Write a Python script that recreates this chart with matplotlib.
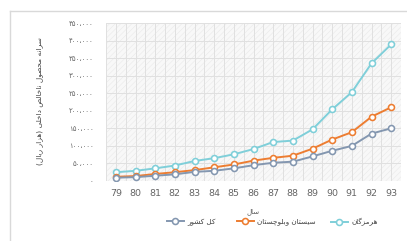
import matplotlib
matplotlib.use("Agg")
import matplotlib.pyplot as plt
from matplotlib.patches import Rectangle
from matplotlib.lines import Line2D
import numpy as np

# ---------------- data ----------------
years = ["79", "80", "81", "82", "83", "84", "85", "86", "87", "88", "89", "90", "91", "92", "93"]
hormozgan = [25000, 29000, 36000, 44000, 57000, 65000, 76000, 91000, 111000, 115000,
             147000, 204000, 253000, 335000, 389000]
sistan = [12000, 14000, 20000, 25000, 31000, 39000, 47000, 58000, 66000, 72000,
          92000, 118000, 139000, 183000, 210000]
country = [9500, 11000, 15000, 19000, 26000, 29000, 36000, 45000, 52000, 55000,
           70000, 86000, 100000, 135000, 150000]
yticks = [0, 50000, 100000, 150000, 200000, 250000, 300000, 350000, 400000, 450000]
label_country = "کل کشور"
label_sistan = "سیستان وبلوچستان"
label_hormozgan = "هرمزگان"
xlabel_text = "سال"
ylabel_text = "سرانه محصول ناخالص داخلی (هزار ریال)"

# ------------- minimal Arabic/Persian shaping for display -------------
FORMS = {
    # letter: (isolated, final, initial, medial)  None -> right-joining only
    "ا": ("\uFE8D", "\uFE8E", None, None),
    "ب": ("\uFE8F", "\uFE90", "\uFE91", "\uFE92"),
    "ت": ("\uFE95", "\uFE96", "\uFE97", "\uFE98"),
    "ج": ("\uFE9D", "\uFE9E", "\uFE9F", "\uFEA0"),
    "ح": ("\uFEA1", "\uFEA2", "\uFEA3", "\uFEA4"),
    "خ": ("\uFEA5", "\uFEA6", "\uFEA7", "\uFEA8"),
    "د": ("\uFEA9", "\uFEAA", None, None),
    "ر": ("\uFEAD", "\uFEAE", None, None),
    "ز": ("\uFEAF", "\uFEB0", None, None),
    "س": ("\uFEB1", "\uFEB2", "\uFEB3", "\uFEB4"),
    "ش": ("\uFEB5", "\uFEB6", "\uFEB7", "\uFEB8"),
    "ص": ("\uFEB9", "\uFEBA", "\uFEBB", "\uFEBC"),
    "ل": ("\uFEDD", "\uFEDE", "\uFEDF", "\uFEE0"),
    "م": ("\uFEE1", "\uFEE2", "\uFEE3", "\uFEE4"),
    "ن": ("\uFEE5", "\uFEE6", "\uFEE7", "\uFEE8"),
    "ه": ("\uFEE9", "\uFEEA", "\uFEEB", "\uFEEC"),
    "و": ("\uFEED", "\uFEEE", None, None),
    "ی": ("\uFBFC", "\uFBFD", "\uFBFE", "\uFBFF"),
    "ک": ("\uFB8E", "\uFB8F", "\uFB90", "\uFB91"),
    "گ": ("\uFB92", "\uFB93", "\uFB94", "\uFB95"),
    "چ": ("\uFB7A", "\uFB7B", "\uFB7C", "\uFB7D"),
}


def shape(text):
    out = []
    n = len(text)
    for i, c in enumerate(text):
        if c not in FORMS:
            out.append(c)
            continue
        iso, fin, ini, med = FORMS[c]
        prev = text[i - 1] if i > 0 else None
        nxt = text[i + 1] if i < n - 1 else None
        cp = prev in FORMS and FORMS[prev][2] is not None
        cn = ini is not None and nxt in FORMS
        if cp and cn:
            out.append(med)
        elif cp:
            out.append(fin)
        elif cn:
            out.append(ini)
        else:
            out.append(iso)
    s = "".join(out)[::-1]
    s = s.translate(str.maketrans({"(": ")", ")": "("}))
    return s


PERSIAN_DIGITS = str.maketrans("0123456789", "۰۱۲۳۴۵۶۷۸۹")


def fa_number(v):
    s = f"{v:,}".replace(",", "،")
    return s.translate(PERSIAN_DIGITS)


plt.rcParams["font.family"] = ["DejaVu Sans"]
plt.rcParams["hatch.linewidth"] = 0.4

W, H = 407, 241
fig = plt.figure(figsize=(W / 100, H / 100), dpi=100)
fig.patch.set_facecolor("white")

# outer frame lines (top and left)
fig.add_artist(Line2D([10 / W, 1.0], [1 - 11 / H, 1 - 11 / H], transform=fig.transFigure,
                      color="#d9d9d9", lw=1.0))
fig.add_artist(Line2D([10 / W, 10 / W], [0, 1 - 11 / H], transform=fig.transFigure,
                      color="#d9d9d9", lw=1.0))

left, right, top, bottom = 106, 401, 23, 181
ax = fig.add_axes([left / W, 1 - bottom / H, (right - left) / W, (bottom - top) / H])
ax.set_facecolor("#f8f8f8")
ax.add_patch(Rectangle((0, 0), 1, 1, transform=ax.transAxes, facecolor="none",
                       edgecolor="#e9e9e9", hatch="//////", lw=0, zorder=0))

x = np.arange(len(years))
ax.set_xlim(-0.5, len(years) - 0.5)
ax.set_ylim(0, 450000)

for xv in np.arange(-0.5, len(years), 0.5):
    ax.axvline(xv, color="#e0e0e0", lw=0.7, zorder=1)
for yv in yticks:
    ax.axhline(yv, color="#e0e0e0", lw=0.7, zorder=1)

common = dict(marker="o", markersize=4.3, markerfacecolor="white", markeredgewidth=1.15,
              lw=1.4, zorder=3)
l_h, = ax.plot(x, hormozgan, color="#7fcfd9", **common)
l_s, = ax.plot(x, sistan, color="#ed7d31", **common)
l_c, = ax.plot(x, country, color="#8497b0", **common)

ax.set_xticks(x)
ax.set_xticklabels(years, fontsize=6.8, color="#666666")
ax.set_yticks(yticks)
ax.set_yticklabels([fa_number(v) for v in yticks], fontsize=5.0, color="#666666")
ax.tick_params(axis="both", length=0)
ax.tick_params(axis="x", pad=6)
ax.tick_params(axis="y", pad=9)
for s in ax.spines.values():
    s.set_visible(False)

fig.text(40 / W, 1 - 101 / H, shape(ylabel_text), rotation=90, ha="center", va="center",
         fontsize=5.3, color="#404040")
fig.text(253 / W, 1 - 212 / H, shape(xlabel_text), ha="center", va="center",
         fontsize=5.0, color="#595959")

# legend entries placed like the reference (left to right)
entries = [(l_c, label_country, 167), (l_s, label_sistan, 237), (l_h, label_hormozgan, 331)]
for handle, lab, xpx in entries:
    leg = fig.legend([handle], [shape(lab)], loc="center left",
                     bbox_to_anchor=(xpx / W, 1 - 222 / H), frameon=False,
                     fontsize=5.2, handlelength=2.3, handletextpad=0.5,
                     borderpad=0, borderaxespad=0, labelcolor="#404040")

fig.savefig("out.png", dpi=100)
